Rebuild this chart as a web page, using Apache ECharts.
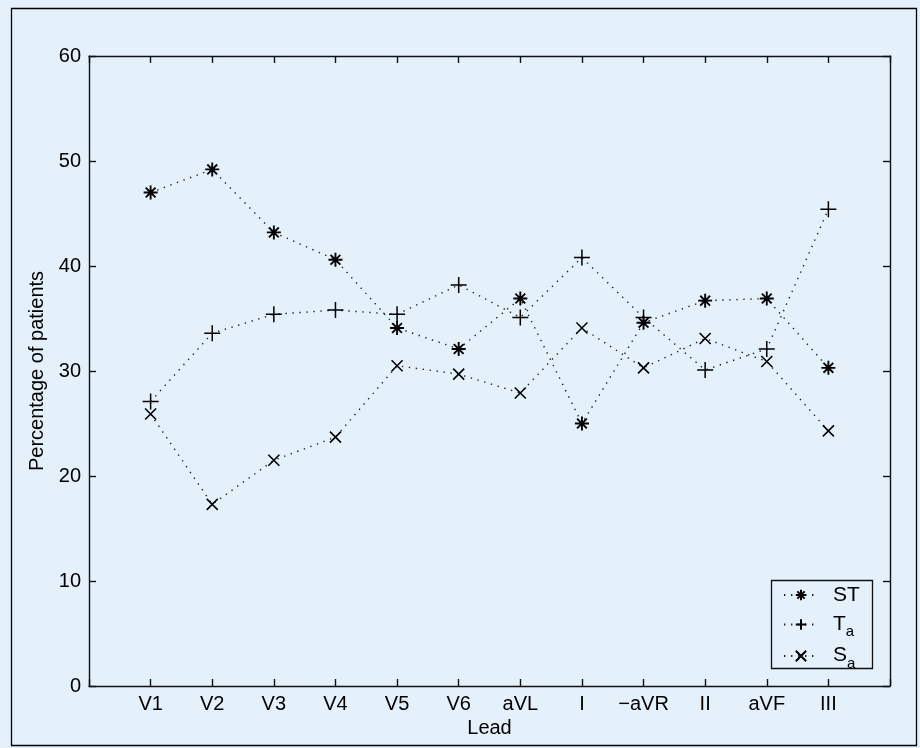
<!DOCTYPE html>
<html>
<head>
<meta charset="utf-8">
<script src="https://cdn.jsdelivr.net/npm/echarts@6/dist/echarts.min.js"></script>
<style>
html,body{margin:0;padding:0;background:#e4f0fa;}
#c{width:920px;height:748px;}
</style>
</head>
<body>
<div id="c"></div>
<script>
var categories = ['V1','V2','V3','V4','V5','V6','aVL','I','\u2212aVR','II','aVF','III'];
var stValues = [47.0, 49.2, 43.2, 40.6, 34.1, 32.1, 36.9, 25.0, 34.6, 36.7, 36.9, 30.3];
var taValues = [27.1, 33.6, 35.4, 35.8, 35.4, 38.2, 35.1, 40.8, 35.1, 30.1, 32.1, 45.4];
var saValues = [25.9, 17.3, 21.5, 23.7, 30.5, 29.7, 27.9, 34.1, 30.3, 33.1, 30.9, 24.3];
var yTicks = [0, 10, 20, 30, 40, 50, 60];

var FONT = '"Liberation Sans", Arial, Helvetica, sans-serif';
var FS = 20;
var chart = echarts.init(document.getElementById('c'), null, {renderer: 'canvas'});

function pairs(arr) { return arr.map(function (v, i) { return [i + 1, v]; }); }

var asterisk = 'path://M0,-10 L0,10 M-10,0 L10,0 M-7,-7 L7,7 M-7,7 L7,-7';
var plus = 'path://M0,-10 L0,10 M-10,0 L10,0';
var cross = 'path://M-10,-10 L10,10 M-10,10 L10,-10';

function mkSeries(name, vals, sym, size, bw) {
  return {
    name: name, type: 'line', data: pairs(vals),
    symbol: sym, symbolSize: size,
    itemStyle: {color: 'rgba(0,0,0,0)', borderColor: '#000', borderWidth: bw},
    lineStyle: {color: '#222', width: 1.4, type: [1.4, 5.6]},
    emphasis: {disabled: true},
    animation: false
  };
}

function axis(extra) {
  return Object.assign({
    type: 'value',
    axisLine: {show: true, onZero: false, lineStyle: {color: '#111', width: 1.4}},
    axisTick: {show: true, inside: true, length: 7, lineStyle: {color: '#111', width: 1.4}},
    splitLine: {show: false}
  }, extra);
}

var option = {
  backgroundColor: '#e4f0fa',
  animation: false,
  grid: {left: 89, right: 30, top: 56, bottom: 62, containLabel: false},
  xAxis: [
    axis({
      min: 0, max: categories.length + 1, interval: 1, position: 'bottom',
      name: 'Lead', nameLocation: 'middle', nameGap: 31,
      nameTextStyle: {fontFamily: FONT, fontSize: FS, color: '#000'},
      axisLabel: {
        margin: 8, fontFamily: FONT, fontSize: FS, color: '#000',
        formatter: function (v) { return (v >= 1 && v <= categories.length) ? categories[v - 1] : ''; }
      }
    }),
    axis({
      min: 0, max: categories.length + 1, interval: 1, position: 'top',
      axisLabel: {show: false}
    })
  ],
  yAxis: [
    axis({
      min: yTicks[0], max: yTicks[yTicks.length - 1], interval: yTicks[1] - yTicks[0], position: 'left',
      name: 'Percentage of patients', nameLocation: 'middle', nameGap: 31,
      nameTextStyle: {fontFamily: FONT, fontSize: FS, color: '#000'},
      axisLabel: {margin: 8, fontFamily: FONT, fontSize: FS, color: '#000'}
    }),
    axis({
      min: yTicks[0], max: yTicks[yTicks.length - 1], interval: yTicks[1] - yTicks[0], position: 'right',
      axisLabel: {show: false}
    })
  ],
  legend: {
    orient: 'vertical', left: 783, top: 577, itemGap: -8.5, padding: 0,
    itemWidth: 34, itemHeight: 13,
    selectedMode: false,
    data: ['ST', 'Ta', 'Sa'],
    formatter: function (n) {
      if (n === 'ST') return '{t|ST}';
      return '{m|' + n.charAt(0) + '}{s|' + n.charAt(1) + '}';
    },
    textStyle: {
      fontFamily: FONT, color: '#000', fontSize: 21,
      rich: {
        t: {fontFamily: FONT, fontSize: 21, color: '#000', lineHeight: 22, padding: [7.5, 0, 7.5, 10]},
        m: {fontFamily: FONT, fontSize: 21, color: '#000', lineHeight: 22, verticalAlign: 'top', padding: [0, 0, 0, 10]},
        s: {fontFamily: FONT, fontSize: 15, color: '#000', lineHeight: 12, padding: [20, 0, 5, 0]}
      }
    }
  },
  graphic: [
    {type: 'rect', shape: {x: 11.5, y: 8.5, width: 905, height: 737}, style: {fill: 'none', stroke: '#000', lineWidth: 1.3}, silent: true},
    {type: 'rect', shape: {x: 771.5, y: 580.5, width: 101, height: 88}, style: {fill: 'none', stroke: '#111', lineWidth: 1.3}, silent: true, z: 10}
  ],
  series: [
    mkSeries('ST', stValues, asterisk, 14, 1.9),
    mkSeries('Ta', taValues, plus, 16, 1.5),
    mkSeries('Sa', saValues, cross, 11, 1.6)
  ]
};
chart.setOption(option);
</script>
</body>
</html>
